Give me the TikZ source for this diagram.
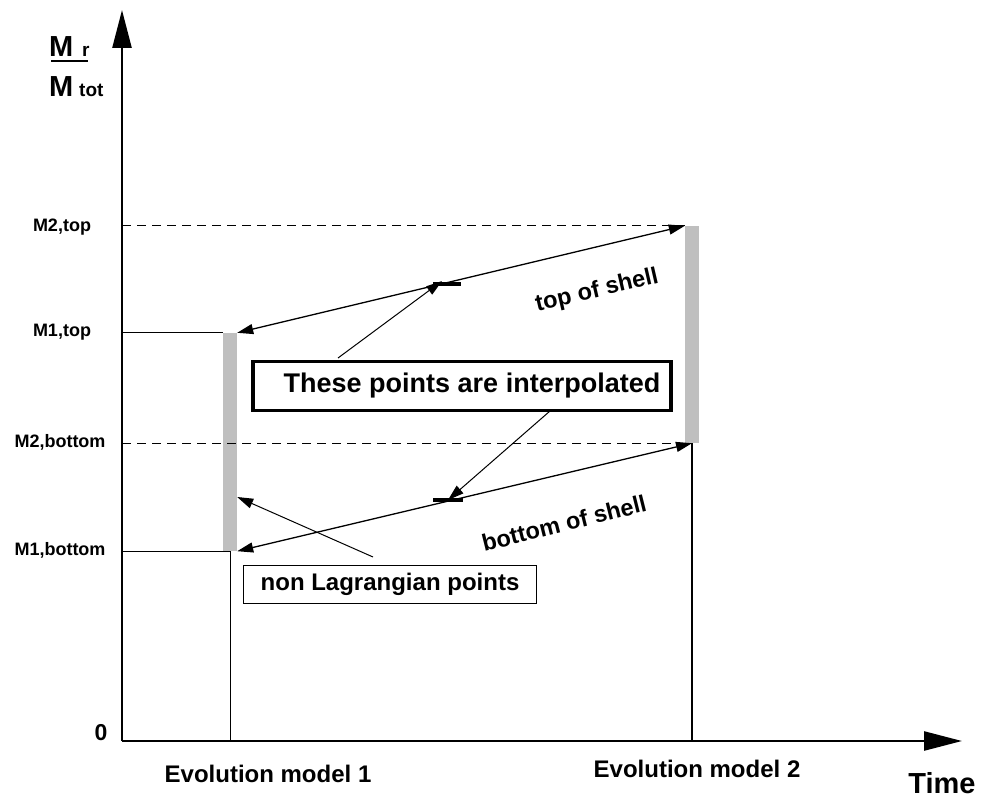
\documentclass[tikz,border=0pt]{standalone}
\usepackage{fontspec}
\setmainfont{Liberation Sans}
\usetikzlibrary{arrows.meta}
\tikzset{
  axis/.style={line width=2.5pt,-{Triangle[length=38pt,width=19pt]}},
  level/.style={line width=1pt},
  leveldash/.style={line width=1pt,dash pattern=on 9pt off 6pt},
  shellbar/.style={fill=black!25,draw=none,minimum width=14pt,inner sep=0pt},
  link/.style={line width=1.3pt,{Triangle[length=16pt,width=10pt]}-{Triangle[length=16pt,width=10pt]}},
  pointer/.style={line width=1pt,-{Triangle[length=16pt,width=10pt]}},
  marker/.style={line width=4pt},
  ylabel/.style={font=\bfseries\fontsize{18}{20}\selectfont,inner sep=0pt},
  xlabel/.style={font=\bfseries\fontsize{24}{26}\selectfont,inner sep=0pt},
  shelltext/.style={font=\bfseries\fontsize{23.5}{25}\selectfont,inner sep=0pt},
  notebox/.style={draw,font=\bfseries\fontsize{24}{26}\selectfont,inner sep=0pt}
}
\begin{document}
\begin{tikzpicture}[x=1pt,y=-1pt]
  \useasboundingbox (0,0) rectangle (981,799);
  % axes
  \coordinate (o) at (122,741);
  \coordinate (ytip) at (122,10);
  \coordinate (xtip) at (962,741);
  \draw[axis] (o) -- (ytip);
  \draw[axis] (o) -- (xtip);
  \node[ylabel,font=\bfseries\fontsize{23}{25}\selectfont] (zero) at (101,733) {0};
  \node[xlabel,font=\bfseries\fontsize{29}{31}\selectfont] (time) at (942,783) {Time};
  % M_r / M_tot
  \node[inner sep=0pt,anchor=base west,font=\bfseries\fontsize{29}{31}\selectfont] (mnum) at (49,57) {M};
  \node[inner sep=0pt,anchor=base west,font=\bfseries\fontsize{19}{21}\selectfont] (rsub) at (82,57) {r};
  \node[inner sep=0pt,anchor=base west,font=\bfseries\fontsize{29}{31}\selectfont] (mden) at (49,97) {M};
  \node[inner sep=0pt,anchor=base west,font=\bfseries\fontsize{19}{21}\selectfont] (totsub) at (79,97) {tot};
  \draw[line width=1.5pt] (51,61) -- (88,61);
  % shells of the two models
  \node[shellbar,minimum height=218pt] (bar1) at (230,442) {};
  \node[shellbar,minimum height=217pt] (bar2) at (692,334.5) {};
  \draw[level] (bar1.south) -- (bar1.south |- o);
  \draw[line width=2pt] (bar2.south) -- (bar2.south |- o);
  \draw[leveldash] (o |- bar2.north) -- (bar2.north west);
  \draw[level] (o |- bar1.north) -- (bar1.north west);
  \draw[leveldash] (o |- bar2.south) -- (bar2.south west);
  \draw[level] (o |- bar1.south) -- (bar1.south);
  \node[ylabel] (m2top) at (62,227) {M2,top};
  \node[ylabel] (m1top) at (62,332) {M1,top};
  \node[ylabel] (m2bot) at (60,442) {M2,bottom};
  \node[ylabel] (m1bot) at (60,550) {M1,bottom};
  \node[xlabel] (model1) at (268,774) {Evolution model 1};
  \node[xlabel] (model2) at (697,769) {Evolution model 2};
  % interpolated points
  \coordinate (mk1) at (447,284);
  \coordinate (mk2) at (448,500);
  \draw[link] (bar1.north east) -- (bar2.north west);
  \draw[link] (bar1.south east) -- (bar2.south);
  \draw[marker] ([xshift=-14pt]mk1) -- ([xshift=14pt]mk1);
  \draw[marker] ([xshift=-15pt]mk2) -- ([xshift=15pt]mk2);
  \node[shelltext,rotate=13] (topshell) at (597,291) {top of shell};
  \node[shelltext,rotate=14] (botshell) at (564,523) {bottom of shell};
  \node[notebox,line width=3.5pt,minimum width=418pt,minimum height=49pt,
    font=\bfseries\fontsize{27}{29}\selectfont] (interp) at (462,386) {\hspace{20pt}These points are interpolated};
  \node[notebox,line width=1.2pt,minimum width=293pt,minimum height=38pt] (nonlag) at (390,584.5) {non Lagrangian points};
  \coordinate (s1) at (338,358);
  \coordinate (s2) at (550,411);
  \coordinate (s3) at (373,557);
  \draw[pointer] (s1) -- ([shift={(-5pt,3pt)}]mk1);
  \draw[pointer] (s2) -- (mk2);
  \draw[pointer] (s3) -- (bar1.east |- 0,497);
\end{tikzpicture}
\end{document}
